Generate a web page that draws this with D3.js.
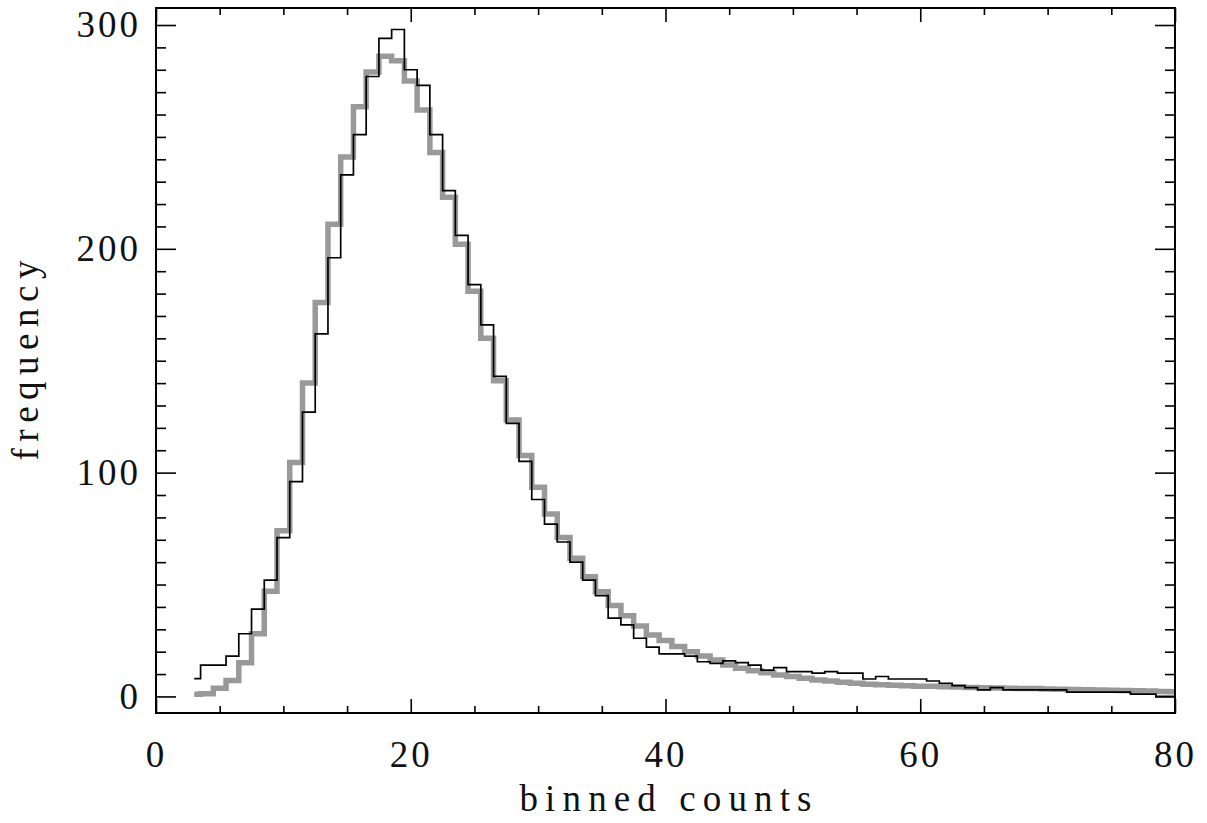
<!DOCTYPE html>
<html>
<head>
<meta charset="utf-8">
<script src="https://cdn.jsdelivr.net/npm/d3@7"></script>
<style>
  body { margin: 0; background: #fff; }
  svg { display: block; }
  .tick text { font-family: "Liberation Serif", "DejaVu Serif", serif; }
</style>
</head>
<body>
<div id="vis-container"></div>
<script>
const binCenters = [3, 4, 5, 6, 7, 8, 9, 10, 11, 12, 13, 14, 15, 16, 17, 18, 19, 20,
    21, 22, 23, 24, 25, 26, 27, 28, 29, 30, 31, 32, 33, 34, 35, 36, 37, 38, 39, 40,
    41, 42, 43, 44, 45, 46, 47, 48, 49, 50, 51, 52, 53, 54, 55, 56, 57, 58, 59, 60,
    61, 62, 63, 64, 65, 66, 67, 68, 69, 70, 71, 72, 73, 74, 75, 76, 77, 78, 79, 80];

// observed histogram (thin black)
const observed = [8, 14, 14, 18, 28, 39, 52, 71, 96, 127, 162, 196, 233, 251, 277, 294, 298,
    280, 273, 251, 226, 206, 184, 166, 143, 122, 105, 88, 77, 69, 60, 52, 45, 35, 32, 26, 22,
    19, 19, 18, 15.5, 14.8, 15.9, 15.1, 14, 11.8, 12.9, 11.1, 11.1, 10.4, 11.1, 10.4, 10.4, 7.8, 8.9, 7.8, 7.8, 7.8,
    6.9, 5.9, 4.8, 3.9, 2.9, 3.9, 2.9, 2.9, 2.9, 2.9, 2.9, 1.9, 1.9, 1.9, 1.9, 1.9, 1.0, 1.0, 0, 0];

// model histogram (thick grey)
const model = [1.0, 1.2, 3.7, 7.1, 15, 28, 47, 74, 104.5, 140, 176, 211, 241, 263.5, 279, 286, 284,
    275, 262, 243, 223, 202, 181, 160, 141, 123.5, 107.6, 93.5, 81.5, 71, 61.7, 53.5, 46.8, 40.6, 36, 31.5, 27.5,
    25, 22.3, 20, 18.1, 16.3, 14.1, 12.6, 11.5, 10.6, 9.6, 8.9, 8.1, 7.4, 6.9, 6.3, 5.9, 5.4, 5.2, 5.0, 4.8, 4.6,
    4.5, 4.3, 4.2, 4.0, 3.9, 3.8, 3.7, 3.6, 3.5, 3.3, 3.2, 3.1, 3.0, 2.9, 2.8, 2.6, 2.5, 2.4, 2.2, 2.1];

const xMajor = [0, 20, 40, 60, 80],
    yMajor = [0, 100, 200, 300];

const plotLeft = 156, plotRight = 1175, plotTop = 8, plotBottom = 713;

let svg = d3.select("#vis-container")
    .append("svg")
    .attr("width", 1207)
    .attr("height", 823);

let x = d3.scaleLinear().domain([0, 80]).range([plotLeft, plotRight]);
let y = d3.scaleLinear().domain([-7.4, 307.6]).range([plotBottom, plotTop]);

let xMinor = d3.range(0, 81, 5).filter(v => v % 20 !== 0),
    yMinor = d3.range(0, 301, 10).filter(v => v % 100 !== 0);

let line = d3.line()
    .x((d, i) => x(binCenters[i]))
    .y(d => y(d))
    .curve(d3.curveStep);

svg.append("path")
    .datum(model)
    .attr("fill", "none")
    .attr("stroke", "#999")
    .attr("stroke-width", 5.5)
    .attr("d", line);

svg.append("path")
    .datum(observed)
    .attr("fill", "none")
    .attr("stroke", "#000")
    .attr("stroke-width", 1.7)
    .attr("d", line);

let styleAxis = function(g){
    g.select(".domain").remove();
    g.selectAll(".tick line").attr("stroke", "#000").attr("stroke-width", 1.6);
    g.selectAll(".tick text")
        .attr("fill", "#111")
        .attr("font-size", 37)
        .attr("letter-spacing", 3);
};

// bottom
svg.append("g")
    .attr("transform", `translate(0,${plotBottom})`)
    .call(d3.axisBottom(x).tickValues(xMajor).tickSize(-14).tickPadding(28).tickFormat(d3.format("d")))
    .call(styleAxis);
svg.append("g")
    .attr("transform", `translate(0,${plotBottom})`)
    .call(d3.axisBottom(x).tickValues(xMinor).tickSize(-7).tickFormat(""))
    .call(styleAxis);
// top
svg.append("g")
    .attr("transform", `translate(0,${plotTop})`)
    .call(d3.axisTop(x).tickValues(xMajor).tickSize(-14).tickFormat(""))
    .call(styleAxis);
svg.append("g")
    .attr("transform", `translate(0,${plotTop})`)
    .call(d3.axisTop(x).tickValues(xMinor).tickSize(-7).tickFormat(""))
    .call(styleAxis);
// left
svg.append("g")
    .attr("transform", `translate(${plotLeft},0)`)
    .call(d3.axisLeft(y).tickValues(yMajor).tickSize(-20).tickPadding(15).tickFormat(d3.format("d")))
    .call(styleAxis);
svg.append("g")
    .attr("transform", `translate(${plotLeft},0)`)
    .call(d3.axisLeft(y).tickValues(yMinor).tickSize(-10).tickFormat(""))
    .call(styleAxis);
// right
svg.append("g")
    .attr("transform", `translate(${plotRight},0)`)
    .call(d3.axisRight(y).tickValues(yMajor).tickSize(-20).tickFormat(""))
    .call(styleAxis);
svg.append("g")
    .attr("transform", `translate(${plotRight},0)`)
    .call(d3.axisRight(y).tickValues(yMinor).tickSize(-10).tickFormat(""))
    .call(styleAxis);

svg.selectAll(".tick text").filter(function(){ return this.textContent === ""; }).remove();

svg.append("rect")
    .attr("x", plotLeft)
    .attr("y", plotTop)
    .attr("width", plotRight - plotLeft)
    .attr("height", plotBottom - plotTop)
    .attr("fill", "none")
    .attr("stroke", "#000")
    .attr("stroke-width", 2);

svg.append("text")
    .attr("x", (plotLeft + plotRight) / 2)
    .attr("y", 811)
    .attr("text-anchor", "middle")
    .attr("font-family", "Liberation Serif, DejaVu Serif, serif")
    .attr("font-size", 37)
    .attr("fill", "#111")
    .attr("textLength", 292)
    .attr("lengthAdjust", "spacing")
    .text("binned counts");

svg.append("text")
    .attr("transform", `translate(38,${(plotTop + plotBottom) / 2}) rotate(-90)`)
    .attr("text-anchor", "middle")
    .attr("font-family", "Liberation Serif, DejaVu Serif, serif")
    .attr("font-size", 37)
    .attr("fill", "#111")
    .attr("textLength", 200)
    .attr("lengthAdjust", "spacing")
    .text("frequency");
</script>
</body>
</html>
